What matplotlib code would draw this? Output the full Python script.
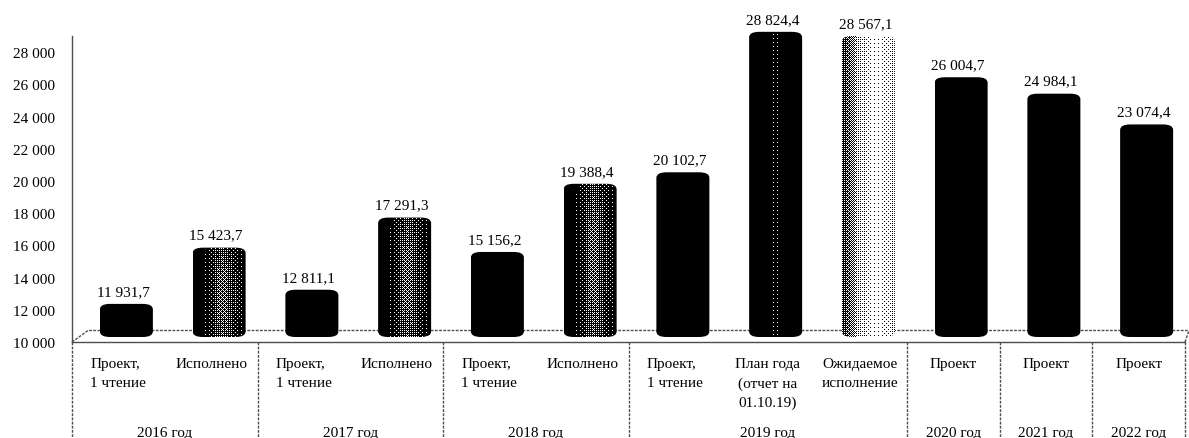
import numpy as np
import matplotlib
matplotlib.use("Agg")
import matplotlib.pyplot as plt
from matplotlib.patches import FancyBboxPatch

plt.rcParams["font.family"] = ["Liberation Serif", "DejaVu Serif"]

categories = ["Проект,\n1 чтение", "Исполнено",
              "Проект,\n1 чтение", "Исполнено",
              "Проект,\n1 чтение", "Исполнено",
              "Проект,\n1 чтение", "План года\n(отчет на\n01.10.19)", "Ожидаемое\nисполнение",
              "Проект", "Проект", "Проект"]
values = [11931.7, 15423.7, 12811.1, 17291.3, 15156.2, 19388.4,
          20102.7, 28824.4, 28567.1, 26004.7, 24984.1, 23074.4]
value_labels = ["11 931,7", "15 423,7", "12 811,1", "17 291,3", "15 156,2", "19 388,4",
                "20 102,7", "28 824,4", "28 567,1", "26 004,7", "24 984,1", "23 074,4"]
years = ["2016 год", "2017 год", "2018 год", "2019 год", "2020 год", "2021 год", "2022 год"]
year_spans = [(0, 1), (2, 3), (4, 5), (6, 8), (9, 9), (10, 10), (11, 11)]
bar_tones = ["black", "grey", "black", "grey", "black", "grey",
             "black", "sparse", "light", "black", "black", "black"]
yticks = list(range(10000, 28001, 2000))
ytick_labels = [f"{v // 1000} 000" for v in yticks]

W, H = 1189, 439
X0, X1, Y0, Y1 = 72, 1185, 343, 37
PX_X = (X1 - X0) / 12          # px per category
PX_Y = (Y0 - Y1) / 19000       # px per unit

TONES = {
    "black": ([0, 1], [1.0, 1.0]),
    "sparse": ([0, 0.35, 0.5, 0.65, 1], [1.0, 1.0, 0.9, 1.0, 1.0]),
    "grey": ([0, 0.25, 0.55, 0.8, 1], [1.0, 0.95, 0.6, 0.85, 1.0]),
    "light": ([0, 0.12, 0.3, 0.55, 0.85, 1], [0.75, 0.62, 0.28, 0.04, 0.12, 0.28]),
}
BAYER = np.array([[0, 8, 2, 10], [12, 4, 14, 6], [3, 11, 1, 9], [15, 7, 13, 5]]) / 16 + 1 / 32


def halftone(tone, nx, ny):
    xp, fp = TONES[tone]
    ink = np.tile(np.interp(np.linspace(0, 1, nx), xp, fp), (ny, 1))
    if tone == "grey":
        # middle of the cylinder is washed out a bit more than the top
        fade = np.interp(np.linspace(0, 1, ny), [0, 0.3, 0.7, 1], [0.6, 1, 1, 0.8])
        ink = 1 - (1 - ink) * fade[:, None]
    thr = np.tile(BAYER, (ny // 4 + 1, nx // 4 + 1))[:ny, :nx]
    return (ink < thr).astype(float)


fig = plt.figure(figsize=(W / 100, H / 100), dpi=100)
ax = fig.add_axes([X0 / W, 1 - Y0 / H, (X1 - X0) / W, (Y0 - Y1) / H])

x = np.arange(12)
bar_w = 53 / PX_X
dx = 8 / PX_X
bottom = 10000 + 5 / PX_Y
lift = 7 / PX_Y

for xi, v, tone, lab in zip(x, values, bar_tones, value_labels):
    left = xi + dx - bar_w / 2
    top = v + lift
    box = FancyBboxPatch((left, bottom), bar_w, top - bottom,
                         boxstyle="round,pad=0,rounding_size=0.11",
                         mutation_aspect=5.5 / PX_Y / 0.11,
                         fc="none", ec="none", clip_on=False, zorder=3)
    ax.add_patch(box)
    # snap the halftone to whole pixels so the dots do not beat with the grid
    pl = round((left + 0.5) * PX_X)
    ptop = round((top - 10000) * PX_Y) + 1
    pbot = int((bottom - 10000) * PX_Y) - 1
    nx, ny = 54, ptop - pbot
    img = ax.imshow(halftone(tone, nx, ny), cmap="gray", vmin=0, vmax=1,
                    extent=(pl / PX_X - 0.5, (pl + nx) / PX_X - 0.5,
                            10000 + pbot / PX_Y, 10000 + ptop / PX_Y),
                    aspect="auto", interpolation="nearest", zorder=3)
    img.set_clip_path(box)
    img.set_clip_box(fig.bbox)  # the tallest bars rise above the axes box
    ax.annotate(lab, (xi + dx, top), xytext=(-3, 6), textcoords="offset pixels",
                ha="center", va="bottom", fontsize=11, color="black", annotation_clip=False)

ax.set_xlim(-0.5, 11.5)
ax.set_ylim(10000, 29000)

# back wall of the 3D floor
line_kw = dict(color="#4d4d4d", lw=1.0, ls=(0, (2, 1)), clip_on=False)
wall_x = -0.5 + 16 / PX_X
wall_y = 10000 + 11.5 / PX_Y
ax.plot([-0.5, wall_x, 11.5 + 4 / PX_X], [10000, wall_y, wall_y], zorder=1, **line_kw)
ax.plot([11.5, 11.5 + 4 / PX_X], [10000, wall_y], zorder=1, **line_kw)

for side in ["top", "right"]:
    ax.spines[side].set_visible(False)
for side in ["left", "bottom"]:
    ax.spines[side].set_color("#4d4d4d")
    ax.spines[side].set_linestyle((0, (2, 1)))
    ax.spines[side].set_linewidth(1.0)

ax.set_yticks(yticks)
ax.set_yticklabels(ytick_labels, fontsize=11)
ax.tick_params(axis="y", length=0, pad=12.5)
ax.set_xticks([])

# table under the axis: category labels, year labels, separators
to_ax = ax.get_xaxis_transform()


def py(px):
    return (Y0 - px) / (Y0 - Y1)


for xi, cat in zip(x, categories):
    align = "left" if cat.startswith("Проект,") else "center"
    ax.text(xi, py(358), cat, transform=to_ax, ha="center", va="top",
            fontsize=11, linespacing=1.6, multialignment=align, clip_on=False)

for (a, b), yr in zip(year_spans, years):
    ax.text((a + b) / 2, py(434), yr, transform=to_ax, ha="center", va="center", fontsize=11)
    ax.plot([a - 0.5, a - 0.5], [py(343), py(440)], transform=to_ax, **line_kw)
ax.plot([11.5, 11.5], [py(343), py(440)], transform=to_ax, **line_kw)

fig.savefig("out.png", dpi=100)
plt.close(fig)
